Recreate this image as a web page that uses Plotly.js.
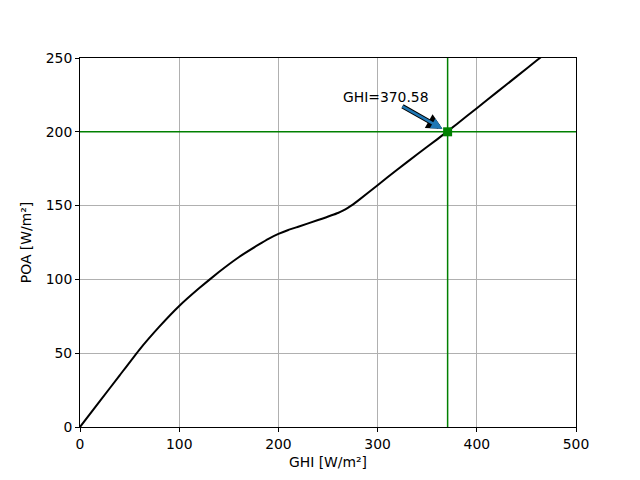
<!DOCTYPE html>
<html><head><meta charset="utf-8">
<script src="https://cdn.plot.ly/plotly-3.0.1.min.js"></script>
<style>body{margin:0;background:#fff}#plot{width:640px;height:480px}</style>
</head><body><div id="plot"></div>
<script>
const ghi = [0, 20, 40, 60, 80, 100, 120, 140, 160, 180, 190, 200, 210, 220, 240, 260, 265, 270, 275, 280, 300, 320, 340, 360, 380, 400, 420, 440, 460, 480, 500];
const poa = [0, 17.5, 35, 52.5, 68, 82, 94, 105, 115, 123.5, 127.5, 130.8, 133.5, 135.7, 140.2, 145, 146.6, 148.5, 150.7, 153.2, 163.8, 174.5, 184.8, 194.9, 205.3, 216, 226.7, 237.4, 248.1, 258.8, 269.5];
const targetPOA = 200;
const foundGHI = 370.58;
const labelText = 'GHI=' + foundGHI.toFixed(2);

const font = {family: 'DejaVu Sans, sans-serif', size: 13.9, color: '#000'};
const traces = [
  {x: ghi, y: poa, mode: 'lines', line: {color: '#000', width: 2, shape: 'spline', smoothing: 0.3}, showlegend: false, hoverinfo: 'skip'},
  {x: [foundGHI], y: [targetPOA], mode: 'markers', marker: {symbol: 'square', color: '#008000', size: 9}, showlegend: false, cliponaxis: false}
];
const ann = (color, w, head, txtColor) => ({
  x: foundGHI, y: targetPOA, xref: 'x', yref: 'y', text: labelText,
  showarrow: true, arrowhead: 2, arrowsize: head, arrowwidth: w, arrowcolor: color,
  ax: -62, ay: -35, standoff: 6, font: Object.assign({}, font, {color: txtColor})
});
const layout = {
  width: 640, height: 480,
  margin: {l: 80, r: 64, t: 58, b: 53},
  paper_bgcolor: '#fff', plot_bgcolor: '#fff',
  font: font,
  xaxis: {range: [0, 500], tickvals: [0, 100, 200, 300, 400, 500], showgrid: true, gridcolor: '#b0b0b0', gridwidth: 1,
    zeroline: false, showline: true, linecolor: '#000', linewidth: 1, mirror: true, ticks: 'outside', ticklen: 4, tickcolor: '#000',
    title: {text: 'GHI [W/m²]', font: font, standoff: 6}},
  yaxis: {range: [0, 250], tickvals: [0, 50, 100, 150, 200, 250], showgrid: true, gridcolor: '#b0b0b0', gridwidth: 1,
    zeroline: false, showline: true, linecolor: '#000', linewidth: 1, mirror: true, ticks: 'outside', ticklen: 4, tickcolor: '#000',
    title: {text: 'POA [W/m²]', font: font, standoff: 10}},
  shapes: [
    {type: 'line', xref: 'x', yref: 'paper', x0: foundGHI, x1: foundGHI, y0: 0, y1: 1, line: {color: '#008000', width: 1.5}},
    {type: 'line', xref: 'paper', yref: 'y', x0: 0, x1: 1, y0: targetPOA, y1: targetPOA, line: {color: '#008000', width: 1.5}}
  ],
  annotations: [ann('#000', 4.5, 0.7, '#000'), ann('#1f77b4', 2.5, 0.9, 'rgba(0,0,0,0)')]
};
Plotly.newPlot('plot', traces, layout, {displayModeBar: false, staticPlot: true});
</script></body></html>
